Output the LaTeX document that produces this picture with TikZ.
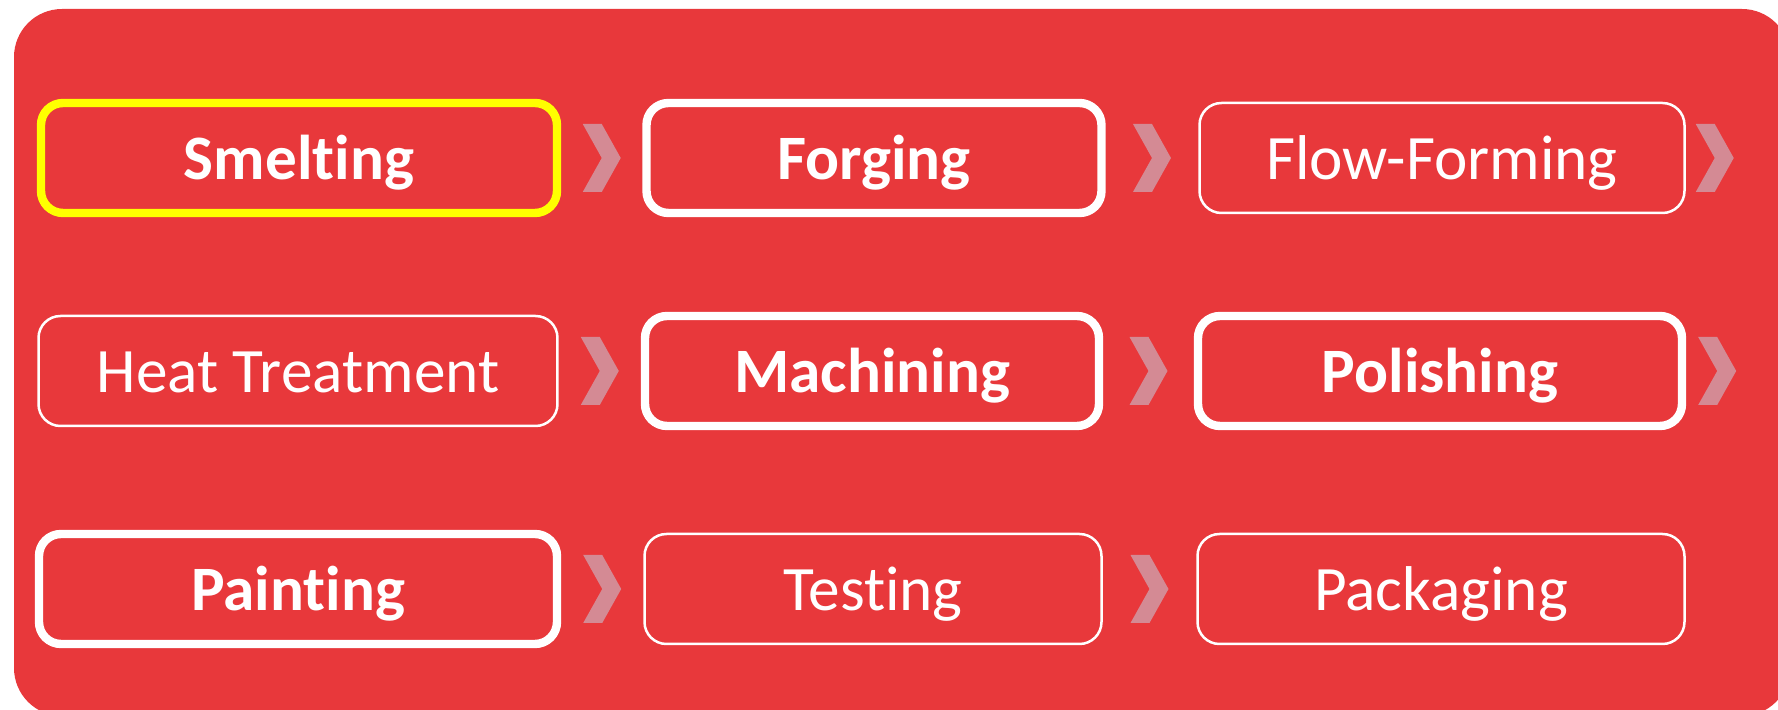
\documentclass[tikz,border=0pt]{standalone}
\usepackage{fontspec}
\setmainfont{Carlito}[Ligatures=NoCommon]
\usepackage{tikz}
\usetikzlibrary{calc}

\definecolor{bgred}{RGB}{232,56,59}
\definecolor{chevpink}{RGB}{212,138,148}
\definecolor{hiyellow}{RGB}{255,255,0}

\tikzset{
  stage/.style={rounded corners=2.2mm, text=white, minimum height=11mm, inner sep=0pt,
    text height=15pt, text depth=3pt, font=\fontsize{18}{22}\selectfont},
  boldstage/.style={stage, draw=white, line width=0.84mm, font=\fontsize{18}{22}\selectfont\bfseries},
  plainstage/.style={stage, draw=white, line width=0.25mm},
  chevron/.pic={\fill[chevpink] (-19,-34) -- (0,-34) -- (19,0) -- (0,34) -- (-19,34) -- (0,0) -- cycle;}
}

\begin{document}
\begin{tikzpicture}[x=0.1mm, y=-0.1mm]
        \useasboundingbox (0,0) rectangle (1778,710);
        \fill[bgred, rounded corners=4.8mm] (14,9) rectangle (1790,716);

        % first row
        \node[boldstage, draw=hiyellow, minimum width=51.6mm] (smelt) at (299,158) {Smelting};
        \node[boldstage, minimum width=45.5mm] (forge) at (874,158) {Forging};
        \node[plainstage, minimum width=48.5mm] (flow) at (1442,158) {Flow-Forming};

        % second row
        \node[plainstage, minimum width=51.9mm] (heat) at (298,371) {Heat Treatment};
        \node[boldstage, minimum width=45.4mm] (mach) at (872,371) {Machining};
        \node[boldstage, minimum width=48.4mm] (polish) at (1440,371) {Polishing};

        % third row
        \node[boldstage, minimum width=51.8mm] (paint) at (298,589) {Painting};
        \node[plainstage, minimum width=45.7mm] (test) at (873,589) {Testing};
        \node[plainstage, minimum width=48.7mm] (pack) at (1441,589) {Packaging};

        \pic at ($(smelt.east)!0.5!(forge.west)$) {chevron};
        \pic at ($(forge.east)!0.5!(flow.west)$) {chevron};
        \pic at ($(flow.east)+(29,0)$) {chevron};
        \pic at ($(heat.east)!0.5!(mach.west)$) {chevron};
        \pic at ($(mach.east)!0.5!(polish.west)$) {chevron};
        \pic at ($(polish.east)+(31,0)$) {chevron};
        \pic at ($(paint.east)!0.5!(test.west)$) {chevron};
        \pic at ($(test.east)!0.5!(pack.west)$) {chevron};
\end{tikzpicture}
\end{document}
